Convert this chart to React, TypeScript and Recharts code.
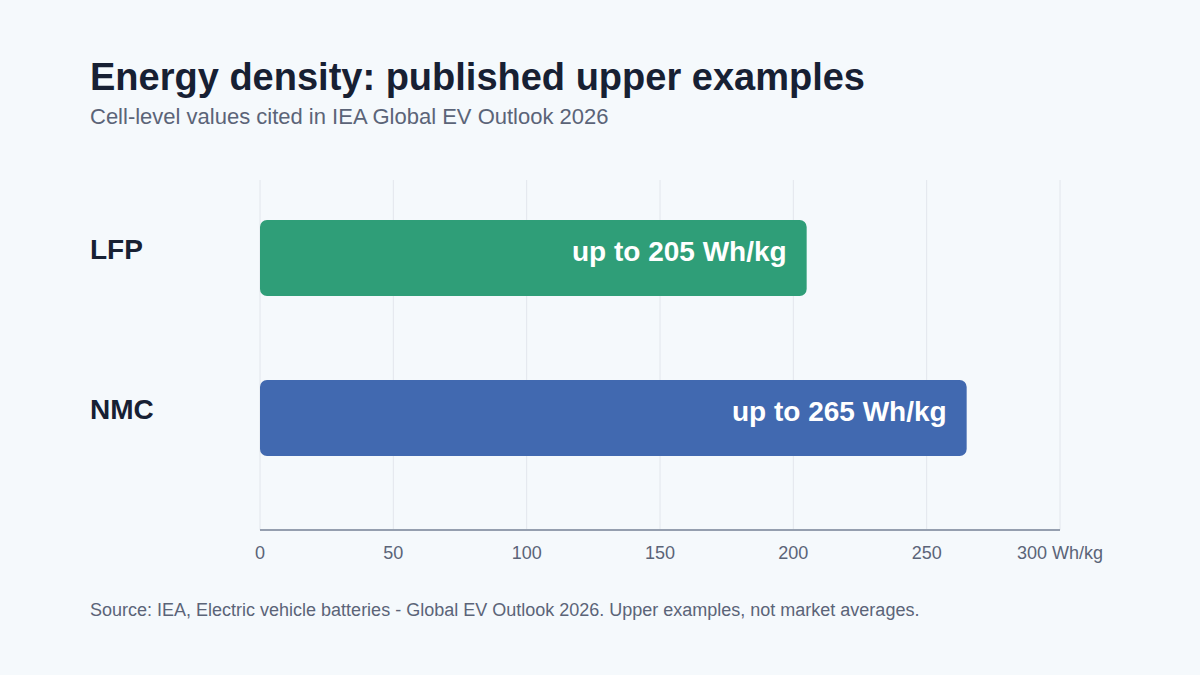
import { Bar, BarChart, CartesianGrid, LabelList, XAxis, YAxis } from 'recharts';

const chemistries = ['LFP', 'NMC'];
const upperDensity = [205, 265];
const barColors = ['#2f9e78', '#4169b0'];
const axisTicks = [0, 50, 100, 150, 200, 250, 300];

const data = chemistries.map((name, i) => ({
  name,
  value: upperDensity[i],
  fill: barColors[i],
}));

const font = '"Liberation Sans", Arial, Helvetica, sans-serif';

const CategoryTick = (props: any) => {
  const { y, payload } = props;
  return (
    <text
      x={90}
      y={y}
      dy={1}
      fill='#172033'
      fontSize={28}
      fontWeight={700}
      fontFamily={font}
      textAnchor='start'
    >
      {payload.value}
    </text>
  );
};

const ValueLabel = (props: any) => {
  const { x, y, width, height, value } = props;
  return (
    <text
      x={x + width - 20}
      y={y + height / 2}
      dy={3}
      fill='#ffffff'
      fontSize={28}
      fontWeight={700}
      fontFamily={font}
      textAnchor='end'
    >
      {`up to ${value} Wh/kg`}
    </text>
  );
};

export default function App() {
  return (
    <div
      style={{
        position: 'absolute',
        left: 0,
        top: 0,
        width: 1200,
        height: 675,
        background: '#f5f9fc',
        fontFamily: font,
        overflow: 'hidden',
      }}
    >
      <div
        style={{
          position: 'absolute',
          left: 90,
          top: 54,
          fontSize: 38,
          fontWeight: 700,
          color: '#172033',
          lineHeight: '46px',
        }}
      >
        Energy density: published upper examples
      </div>
      <div
        style={{
          position: 'absolute',
          left: 90,
          top: 104,
          fontSize: 22,
          color: '#5b6478',
          lineHeight: '26px',
        }}
      >
        Cell-level values cited in IEA Global EV Outlook 2026
      </div>
      <div style={{ position: 'absolute', left: 0, top: 0 }}>
        <BarChart
          width={1200}
          height={675}
          data={data}
          layout='vertical'
          margin={{ top: 180, right: 140, bottom: 115, left: 90 }}
        >
          <CartesianGrid horizontal={false} stroke='#e2e6ec' strokeWidth={1} />
          <XAxis
            type='number'
            domain={[0, 300]}
            ticks={axisTicks}
            tickFormatter={(v) => (v === 300 ? '300 Wh/kg' : `${v}`)}
            tick={{ fill: '#5b6478', fontSize: 18, fontFamily: font }}
            tickLine={false}
            axisLine={{ stroke: '#959faf', strokeWidth: 2 }}
            height={30}
            tickMargin={10}
          />
          <YAxis
            type='category'
            dataKey='name'
            width={170}
            axisLine={false}
            tickLine={false}
            tick={<CategoryTick />}
            padding={{ top: -2, bottom: 32 }}
          />
          <Bar dataKey='value' barSize={76} radius={7} isAnimationActive={false}>
            <LabelList dataKey='value' content={<ValueLabel />} />
          </Bar>
        </BarChart>
      </div>
      <div
        style={{
          position: 'absolute',
          left: 90,
          top: 599,
          fontSize: 18,
          color: '#5b6478',
          lineHeight: '22px',
        }}
      >
        Source: IEA, Electric vehicle batteries - Global EV Outlook 2026. Upper examples, not market averages.
      </div>
    </div>
  );
}
